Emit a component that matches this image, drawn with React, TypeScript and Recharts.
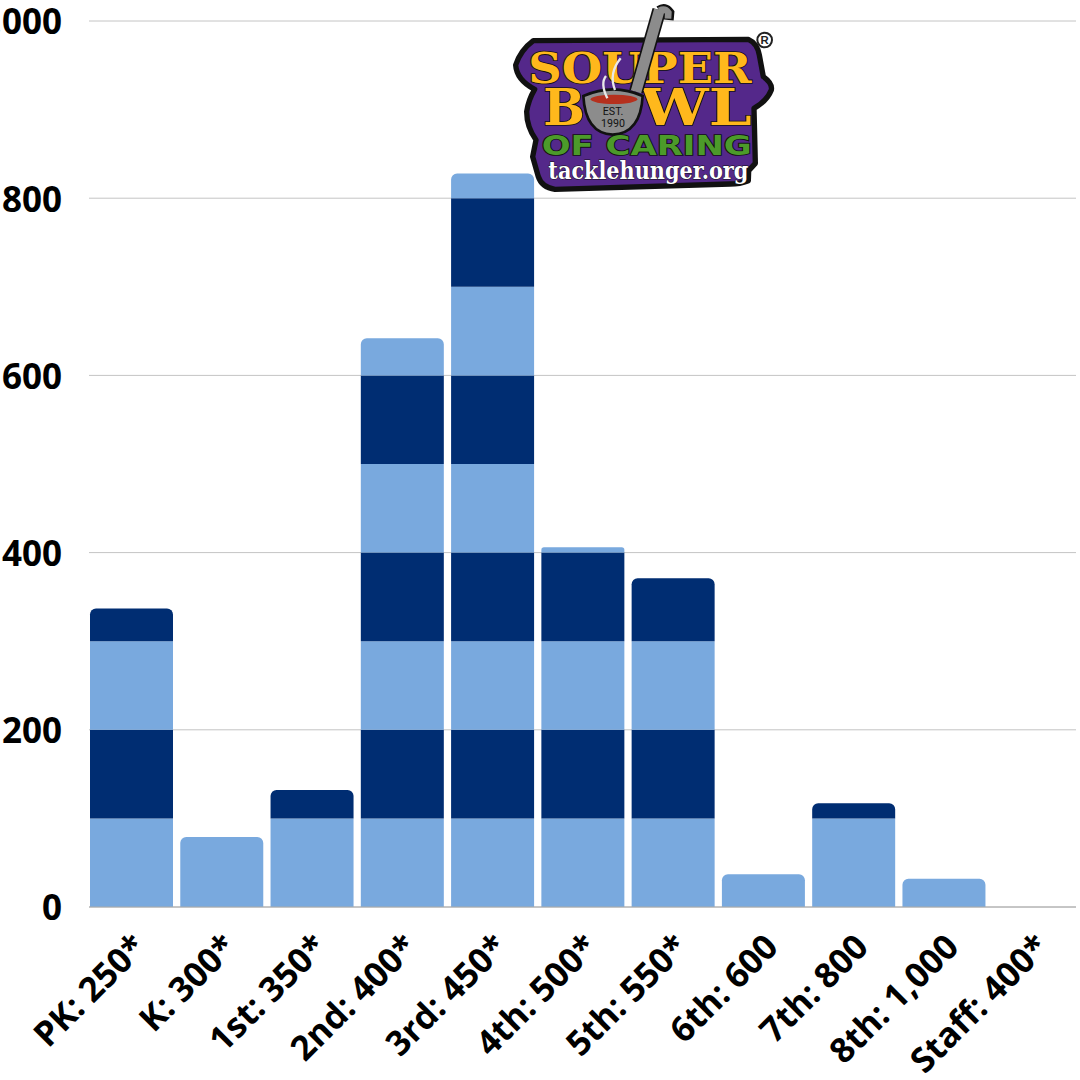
import React from 'react';
import { BarChart, Bar, XAxis, YAxis, CartesianGrid, Rectangle } from 'recharts';

const categories = ['PK: 250*', 'K: 300*', '1st: 350*', '2nd: 400*', '3rd: 450*', '4th: 500*', '5th: 550*', '6th: 600', '7th: 800', '8th: 1,000', 'Staff: 400*'];

// each band is one 100 tall slice of the stack, bottom to top
const band1 = [100, 79, 100, 100, 100, 100, 100, 37, 100, 32, 0];
const band2 = [100, 0, 32, 100, 100, 100, 100, 0, 17, 0, 0];
const band3 = [100, 0, 0, 100, 100, 100, 100, 0, 0, 0, 0];
const band4 = [37, 0, 0, 100, 100, 100, 71, 0, 0, 0, 0];
const band5 = [0, 0, 0, 100, 100, 6, 0, 0, 0, 0, 0];
const band6 = [0, 0, 0, 100, 100, 0, 0, 0, 0, 0, 0];
const band7 = [0, 0, 0, 42, 100, 0, 0, 0, 0, 0, 0];
const band8 = [0, 0, 0, 0, 100, 0, 0, 0, 0, 0, 0];
const band9 = [0, 0, 0, 0, 28, 0, 0, 0, 0, 0, 0];

const bands = [band1, band2, band3, band4, band5, band6, band7, band8, band9];
const yTicks = [0, 200, 400, 600, 800, 1000];

const LIGHT = '#79a9de';
const DARK = '#002d72';
const FONT = '"Open Sans", sans-serif';

const data = categories.map((name, i) => {
  const row: Record<string, number | string> = { name };
  bands.forEach((b, j) => {
    row[`b${j}`] = b[i];
  });
  return row;
});

// only the top slice of a stack gets rounded corners
function BandShape(props: any) {
  const { bandIndex, index, x, y, width, height, fill } = props;
  const next = bands[bandIndex + 1];
  const isTop = !next || next[index] === 0;
  if (!height || height <= 0) return null;
  return <Rectangle x={x} y={y} width={width} height={height} fill={fill} radius={isTop ? [6, 6, 0, 0] : 0} />;
}

function XTick({ x, y, payload }: any) {
  return (
    <text
      x={0}
      y={0}
      transform={`translate(${x + 17} ${y + 34}) rotate(-45)`}
      textAnchor="end"
      fontFamily={FONT}
      fontWeight={700}
      fontSize={34.5}
      fill="#000"
    >
      {payload.value}
    </text>
  );
}

function Logo() {
  const ink = '#111';
  const yellow = '#ffb81c';
  const serif = '"DejaVu Serif", serif';
  const sans = '"DejaVu Sans", sans-serif';
  return (
    <svg width={290} height={200} viewBox="0 0 870 600" style={{ position: 'absolute', left: 500, top: 0 }}>
      <path
        d="M100 122 L745 118 Q772 130 778 165 L790 230 Q818 250 814 270 Q802 302 762 325 L766 490 L746 512 L745 542 Q720 552 690 552 L165 568 Q125 562 115 530 L98 470 L108 420 Q80 380 80 335 Q85 300 104 268 Q50 240 47 195 Q62 150 100 122 Z"
        fill="#54288a"
        stroke={ink}
        strokeWidth={16}
        strokeLinejoin="round"
      />
      <text x={85} y={248} fontFamily={serif} fontWeight={700} fontSize={128} textLength={670} lengthAdjust="spacingAndGlyphs" fill={yellow} stroke={ink} strokeWidth={5} paintOrder="stroke">
        SOUPER
      </text>
      <text x={130} y={375} fontFamily={serif} fontWeight={700} fontSize={150} textLength={125} lengthAdjust="spacingAndGlyphs" fill={yellow} stroke={ink} strokeWidth={5} paintOrder="stroke">
        B
      </text>
      <text x={420} y={375} fontFamily={serif} fontWeight={700} fontSize={150} textLength={335} lengthAdjust="spacingAndGlyphs" fill={yellow} stroke={ink} strokeWidth={5} paintOrder="stroke">
        WL
      </text>
      <path d="M478 30 L408 275" stroke={ink} strokeWidth={42} fill="none" />
      <path d="M478 32 Q495 20 508 38 L506 60" stroke={ink} strokeWidth={30} fill="none" />
      <path d="M478 30 L408 275" stroke="#8c8c8c" strokeWidth={32} fill="none" />
      <path d="M478 32 Q495 24 505 38 L504 56" stroke="#8c8c8c" strokeWidth={20} fill="none" />
      <path d="M250 288 Q340 248 428 288 Q422 400 338 404 Q256 400 250 288 Z" fill="#8c8c8c" stroke={ink} strokeWidth={8} />
      <ellipse cx={342} cy={298} rx={70} ry={14} fill="#b5301e" />
      <path d="M322 295 Q300 250 318 228 M345 270 Q325 220 362 175" stroke="#e8e8e8" strokeWidth={7} fill="none" />
      <text x={339} y={346} textAnchor="middle" fontFamily="Roboto, sans-serif" fontSize={32} fill="#111">
        EST.
      </text>
      <text x={339} y={380} textAnchor="middle" fontFamily="Roboto, sans-serif" fontSize={32} fill="#111">
        1990
      </text>
      <text x={125} y={465} fontFamily={sans} fontWeight={700} fontSize={82} textLength={630} lengthAdjust="spacingAndGlyphs" fill="#4c9a2a" stroke={ink} strokeWidth={5} paintOrder="stroke">
        OF CARING
      </text>
      <text x={145} y={538} fontFamily={serif} fontWeight={700} fontSize={72} textLength={600} lengthAdjust="spacingAndGlyphs" fill="#fff" stroke={ink} strokeWidth={3} paintOrder="stroke">
        tacklehunger.org
      </text>
      <circle cx={794} cy={120} r={22} fill="#fff" stroke="#222" strokeWidth={6} />
      <text x={794} y={133} textAnchor="middle" fontFamily='"Liberation Sans", sans-serif' fontWeight={700} fontSize={34} fill="#222">
        R
      </text>
    </svg>
  );
}

export default function App() {
  return (
    <div style={{ position: 'absolute', left: 0, top: 0, width: 1080, height: 1080, overflow: 'hidden', background: '#fff' }}>
      <BarChart width={1080} height={1080} data={data} margin={{ top: 21, right: 4, bottom: 0, left: 0 }} barSize={83}>
        <CartesianGrid vertical={false} stroke="#c4c4c4" strokeWidth={1} />
        <XAxis
          dataKey="name"
          interval={0}
          padding={{ left: -3, right: -3 }}
          tickLine={false}
          axisLine={{ stroke: '#aaa', strokeWidth: 1 }}
          tick={<XTick />}
          height={173}
        />
        <YAxis
          type="number"
          domain={[0, 1000]}
          ticks={yTicks}
          width={89}
          axisLine={false}
          tickLine={false}
          tickMargin={21}
          tickFormatter={(v: number) => v.toLocaleString('en-US')}
          tick={{ fontFamily: FONT, fontWeight: 700, fontSize: 35, fill: '#000', dy: 1 }}
        />
        {bands.map((_, j) => (
          <Bar
            key={j}
            dataKey={`b${j}`}
            stackId="a"
            fill={j % 2 === 0 ? LIGHT : DARK}
            isAnimationActive={false}
            shape={(p: any) => <BandShape {...p} bandIndex={j} />}
          />
        ))}
      </BarChart>
      <Logo />
    </div>
  );
}
